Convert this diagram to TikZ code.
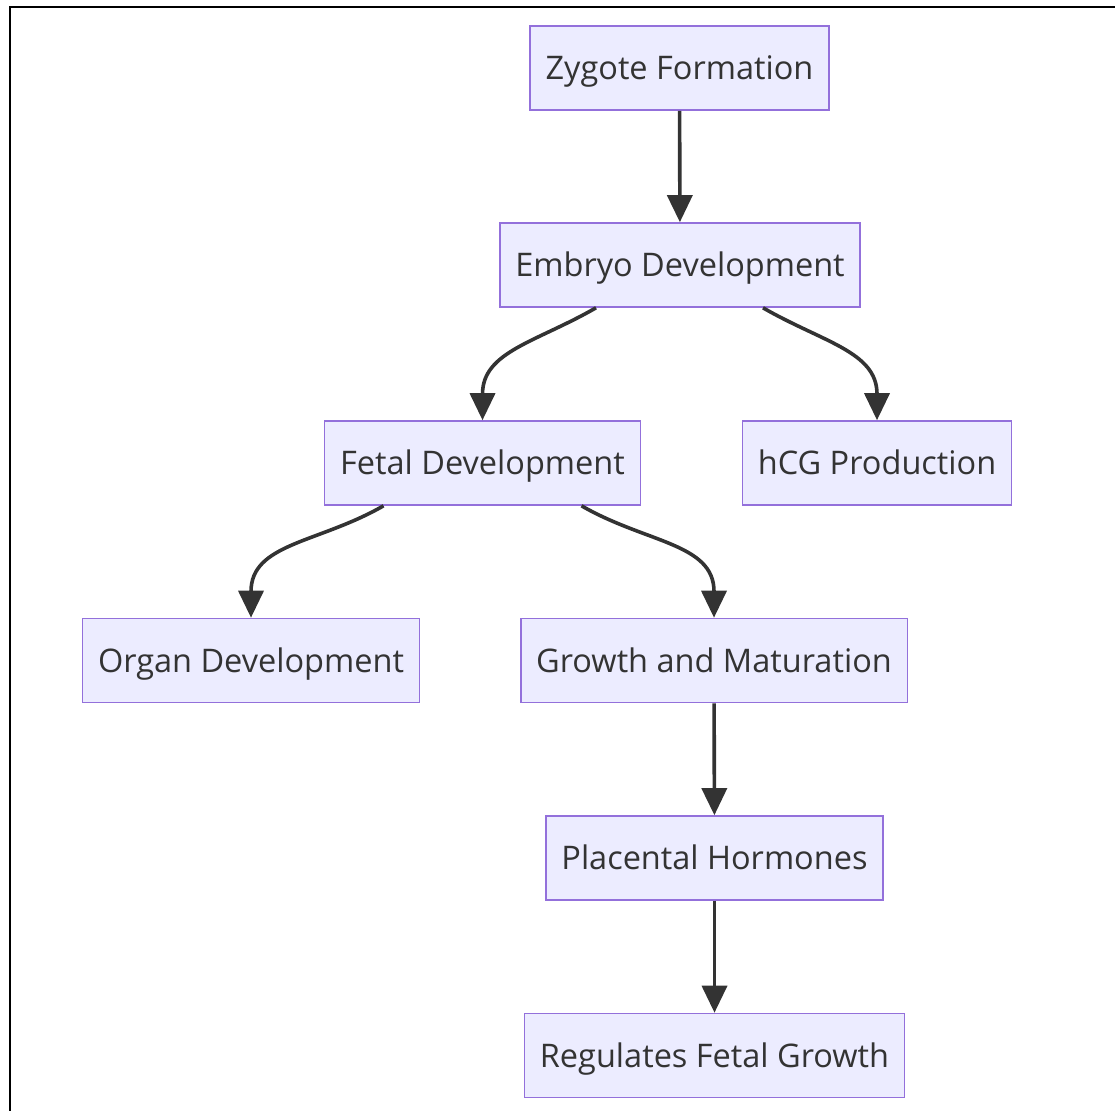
\documentclass[tikz,border=0pt]{standalone}
\usepackage{fontspec}
\setmainfont{Open Sans}
\usetikzlibrary{arrows.meta}

\definecolor{boxfill}{HTML}{ECECFF}
\definecolor{boxline}{HTML}{9370DB}
\definecolor{ink}{HTML}{333333}

\tikzset{
    stage/.style={rectangle, draw=boxline, fill=boxfill, line width=1.6pt,
        text=ink, font=\fontsize{32.5}{38}\selectfont,
        text height=23.5pt, text depth=0pt,
        inner xsep=15.5pt, minimum height=84pt},
    edge/.style={draw=ink, line width=3.6pt,
        -{Triangle[length=27pt, width=25pt]}}
}

\begin{document}
\begin{tikzpicture}[x=1pt, y=-1pt]

        \useasboundingbox (0,0) rectangle (1115,1110);

        % Frame
        \draw[line width=2.4pt] (10,1115) -- (10,7) -- (1120,7);

        % Nodes
        \node (zygote) [stage] at (679.5, 68) {Zygote Formation};
        \node (embryo) [stage] at (680, 265) {Embryo Development};
        \node (fetal) [stage] at (482.5, 463) {Fetal Development};
        \node (hcg) [stage] at (877, 463) {hCG Production};
        \node (organ) [stage] at (251, 660.5) {Organ Development};
        \node (growth) [stage] at (714, 660.5) {Growth and Maturation};
        \node (placental) [stage] at (714.5, 858) {Placental Hormones};
        \node (regulates) [stage] at (714.5, 1055.5) {Regulates Fetal Growth};

        % Edges
        \draw[edge] (zygote) -- (embryo);
        \draw[edge] ([xshift=-84pt]embryo.south) to[out=-150, in=90, looseness=1.1] (fetal.north);
        \draw[edge] ([xshift=83pt]embryo.south) to[out=-30, in=90, looseness=1.1] (hcg.north);
        \draw[edge] ([xshift=-99pt]fetal.south) to[out=-150, in=90, looseness=1.1] (organ.north);
        \draw[edge] ([xshift=99pt]fetal.south) to[out=-30, in=90, looseness=1.1] (growth.north);
        \draw[edge] (growth) -- (placental);
        \draw[edge] (placental) -- (regulates);

\end{tikzpicture}
\end{document}
